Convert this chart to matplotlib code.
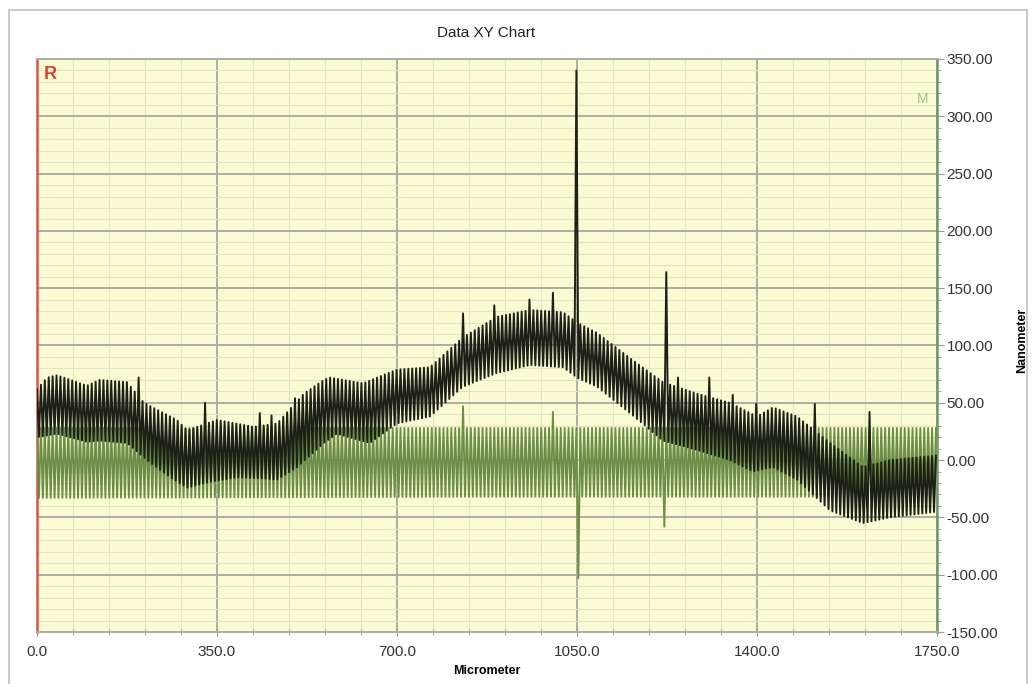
import numpy as np
import matplotlib
matplotlib.use('Agg')
from matplotlib import pyplot as plt
from matplotlib.ticker import MultipleLocator, FuncFormatter
from matplotlib.patches import Rectangle

plt.rcParams['axes.unicode_minus'] = False
plt.rcParams['font.family'] = ['Liberation Sans', 'DejaVu Sans']

# black trace: upper / lower envelope (micrometer, nanometer)
blk_hi_x = [0, 20, 39, 97, 122, 175, 208, 272, 292, 350, 422, 467, 519, 558, 570, 634, 700, 764,
            828, 894, 959, 1023, 1050, 1089, 1153, 1217, 1283, 1347, 1400, 1431, 1478, 1542, 1606, 1658, 1750]
blk_hi_y = [62, 72, 74, 65, 70, 68, 50, 35, 26, 35, 29, 32, 58, 70, 72, 67, 79, 81,
            107, 125, 131, 129, 120, 111, 89, 68, 58, 50, 38, 46, 38, 15, -6, 0, 4]
blk_lo_x = [0, 39, 97, 122, 175, 214, 259, 292, 336, 389, 441, 467, 506, 558, 583, 647, 700, 764,
            828, 894, 959, 1023, 1050, 1089, 1153, 1217, 1283, 1347, 1392, 1431, 1478, 1542, 1606, 1658, 1750]
blk_lo_y = [20, 23, 16, 17, 15, 0, -15, -24, -19, -15, -16, -17, -6, 15, 23, 15, 32, 38,
            64, 76, 83, 81, 72, 64, 41, 17, 9, 0, -10, -6, -17, -44, -55, -50, -45]

# green trace envelope
grn_x = [0, 875, 1750]
grn_hi = [28, 28, 28]
grn_lo = [-33, -32, -32]

# isolated spikes (micrometer, nanometer)
blk_spike_x = [198, 325, 432, 457, 496, 830, 887, 959, 1003, 1050, 1219, 1243, 1302, 1349, 1398, 1513, 1614]
blk_spike_y = [72, 50, 41, 39, 54, 128, 135, 140, 146, 340, 164, 72, 72, 57, 49, 49, 42]
grn_spike_x = [830, 1003, 1050, 1219]
grn_spike_y = [47, 42, -103, -58]

period = 7.6  # micrometer per oscillation


def zigzag(xh, yh, xl, yl, sx, sy):
    t = np.arange(0, 1750 + 1e-9, period / 2)
    hi = np.interp(t, xh, yh)
    lo = np.interp(t, xl, yl)
    idx = np.arange(len(t))
    v = np.where(idx % 2 == 0, hi, lo)
    for x0, y0 in zip(sx, sy):
        i = int(round(x0 / (period / 2)))
        want = 0 if y0 > hi[i] - 5 else 1
        if i % 2 != want:
            i += 1
        v[i] = y0
    return t, v


fig = plt.figure(figsize=(10.35, 6.84), dpi=100)
fig.patches.append(Rectangle((9 / 1035, -0.01), 1018 / 1035, 1 - 10 / 684 + 0.01,
                             transform=fig.transFigure, fill=False, ec='#c0c0b8', lw=1.2))
ax = fig.add_axes([37 / 1035, 1 - 632 / 684, 900 / 1035, 573 / 684])
ax.set_facecolor('#fafbd2')

tg, vg = zigzag(grn_x, grn_hi, grn_x, grn_lo, grn_spike_x, grn_spike_y)
tb, vb = zigzag(blk_hi_x, blk_hi_y, blk_lo_x, blk_lo_y, blk_spike_x, blk_spike_y)
ax.plot(tg, vg, color='#6c8e46', lw=1.35, zorder=3)
ax.plot(tb, vb, color='#1c2017', lw=1.4, zorder=4)

ax.set_xlim(0, 1750)
ax.set_ylim(-150, 350)
ax.xaxis.set_major_locator(MultipleLocator(350))
ax.xaxis.set_minor_locator(MultipleLocator(70))
ax.yaxis.set_major_locator(MultipleLocator(50))
ax.yaxis.set_minor_locator(MultipleLocator(10))
ax.grid(which='major', color='#adaea4', lw=1.4, zorder=1)
ax.grid(which='minor', color='#e2e3c0', lw=0.8, zorder=0)
ax.set_axisbelow(True)

ax.yaxis.tick_right()
ax.xaxis.set_major_formatter(FuncFormatter(lambda v, p: '%.1f' % v))
ax.yaxis.set_major_formatter(FuncFormatter(lambda v, p: '%.2f' % v))
ax.tick_params(axis='both', which='both', colors='#9a9a92', labelcolor='#333333', labelsize=11)
ax.tick_params(axis='y', which='major', length=5, pad=2)
ax.tick_params(axis='y', which='minor', length=3)
ax.tick_params(axis='x', which='major', length=6, pad=6, direction='inout')
ax.tick_params(axis='x', which='minor', length=4, direction='inout')

for s in ['top', 'bottom']:
    ax.spines[s].set_color('#adaea4')
    ax.spines[s].set_linewidth(1.4)
ax.spines['left'].set_color('#d9534f')
ax.spines['left'].set_linewidth(1.8)
ax.spines['right'].set_color('#6f9a66')
ax.spines['right'].set_linewidth(1.8)

ax.set_xlabel('Micrometer', fontsize=9, fontweight='bold', labelpad=5)
fig.text(1022 / 1035, 1 - 340 / 684, 'Nanometer', rotation=90, ha='center', va='center',
         fontsize=9, fontweight='bold')

fig.text(486 / 1035, 1 - 33 / 684, 'Data XY Chart', ha='center', va='center', fontsize=11, color='#222222')
ax.text(0.007, 0.988, 'R', transform=ax.transAxes, ha='left', va='top', color='#d9442f',
        fontsize=13, fontweight='bold', zorder=6)
ax.text(0.99, 0.93, 'M', transform=ax.transAxes, ha='right', va='center', color='#9cc77a',
        fontsize=10, zorder=6)

fig.savefig('out.png', dpi=100)
